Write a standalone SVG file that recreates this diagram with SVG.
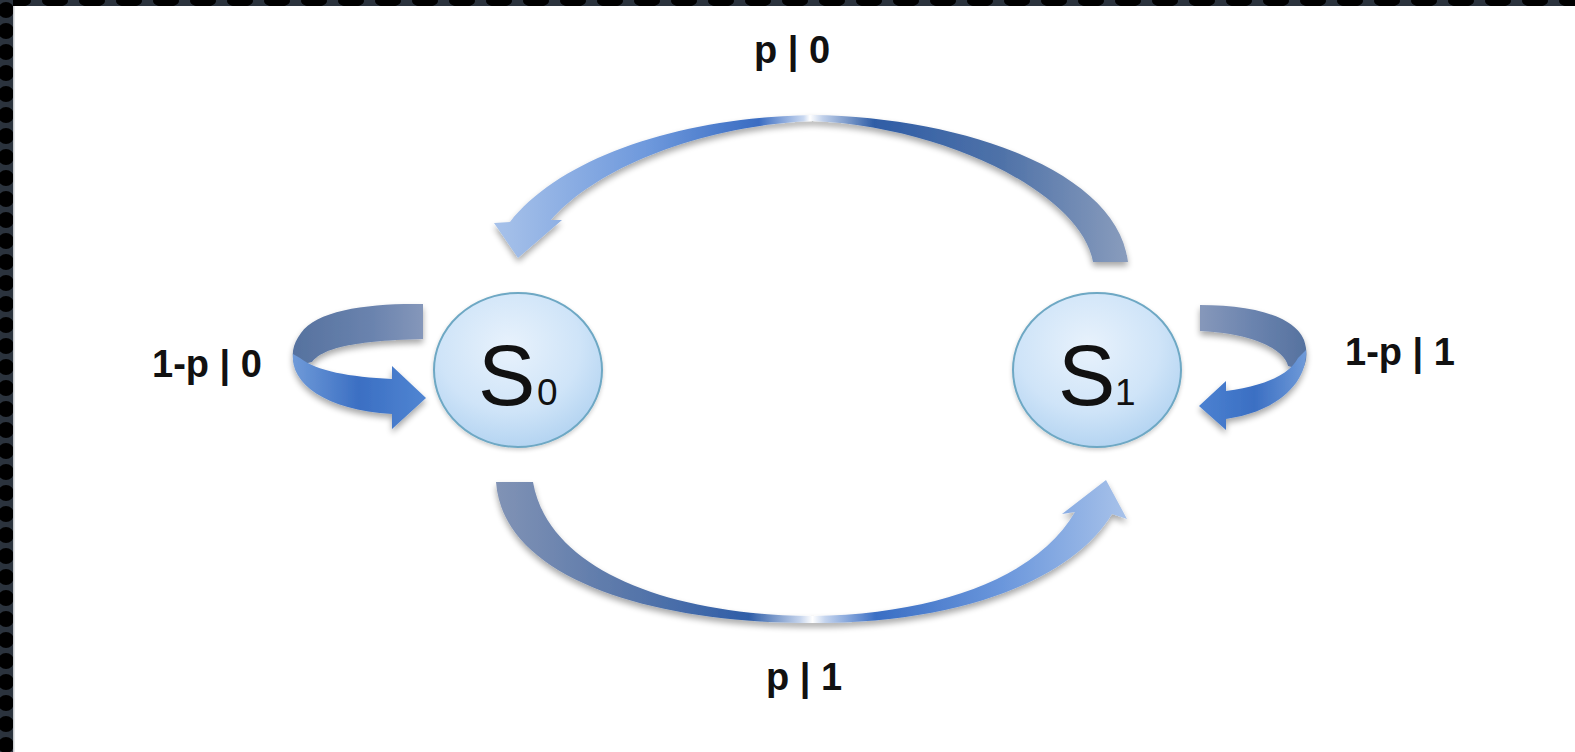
<svg xmlns="http://www.w3.org/2000/svg" width="1575" height="752" viewBox="0 0 1575 752">
  <defs>
    <style>
      .lbl { font-family: "Liberation Sans", Arial, sans-serif; font-weight: bold; font-size: 38px; fill: #111; }
      .big { font-family: "Liberation Sans", Arial, sans-serif; font-size: 86px; fill: #111; }
      .sub { font-family: "Liberation Sans", Arial, sans-serif; font-size: 37px; fill: #111; }
      .node { stroke: #6ea8c4; stroke-width: 2; fill: url(#nodeGrad); filter: url(#soft); }
    </style>
    <pattern id="leftPat" x="0" y="0" width="14" height="21" patternUnits="userSpaceOnUse">
      <rect width="14" height="21" fill="#2b333d"/>
      <circle cx="6" cy="10" r="8" fill="#000"/>
    </pattern>
    <pattern id="topPat" x="0" y="0" width="37" height="6" patternUnits="userSpaceOnUse">
      <rect width="37" height="6" fill="#2b333d"/>
      <ellipse cx="18" cy="1" rx="13" ry="6" fill="#000"/>
    </pattern>
    <radialGradient id="nodeGrad" cx="0.45" cy="0.35" r="0.7">
      <stop offset="0" stop-color="#e8f2fc"/>
      <stop offset="0.6" stop-color="#cfe4f8"/>
      <stop offset="1" stop-color="#afd1f0"/>
    </radialGradient>
    <linearGradient id="topArcGrad" x1="490" y1="0" x2="1130" y2="0" gradientUnits="userSpaceOnUse">
      <stop offset="0" stop-color="#a9c3ea"/>
      <stop offset="0.25" stop-color="#6d98dc"/>
      <stop offset="0.42" stop-color="#3a6cc2"/>
      <stop offset="0.49" stop-color="#c9d8f0"/>
      <stop offset="0.5" stop-color="#ffffff"/>
      <stop offset="0.52" stop-color="#c0d0ea"/>
      <stop offset="0.6" stop-color="#2f5da6"/>
      <stop offset="0.8" stop-color="#4f72a8"/>
      <stop offset="1" stop-color="#8a9dbd"/>
    </linearGradient>
    <linearGradient id="botArcGrad" x1="495" y1="0" x2="1130" y2="0" gradientUnits="userSpaceOnUse">
      <stop offset="0" stop-color="#8193b5"/>
      <stop offset="0.2" stop-color="#5a78aa"/>
      <stop offset="0.4" stop-color="#2f5ea8"/>
      <stop offset="0.48" stop-color="#c4d3ec"/>
      <stop offset="0.5" stop-color="#ffffff"/>
      <stop offset="0.52" stop-color="#c4d4ee"/>
      <stop offset="0.6" stop-color="#3a6ec4"/>
      <stop offset="0.8" stop-color="#6b97dc"/>
      <stop offset="1" stop-color="#a9c3ea"/>
    </linearGradient>
    <linearGradient id="loopTopL" x1="295" y1="0" x2="423" y2="0" gradientUnits="userSpaceOnUse">
      <stop offset="0" stop-color="#56729f"/>
      <stop offset="0.6" stop-color="#6a83ae"/>
      <stop offset="1" stop-color="#8597ba"/>
    </linearGradient>
    <linearGradient id="loopBotL" x1="293" y1="0" x2="425" y2="0" gradientUnits="userSpaceOnUse">
      <stop offset="0" stop-color="#6f9ad8"/>
      <stop offset="0.5" stop-color="#3b6fc3"/>
      <stop offset="1" stop-color="#5085d2"/>
    </linearGradient>
    <linearGradient id="loopTopR" x1="1202" y1="0" x2="1306" y2="0" gradientUnits="userSpaceOnUse">
      <stop offset="0" stop-color="#8597ba"/>
      <stop offset="0.5" stop-color="#6a83ae"/>
      <stop offset="1" stop-color="#56729f"/>
    </linearGradient>
    <linearGradient id="loopBotR" x1="1203" y1="0" x2="1306" y2="0" gradientUnits="userSpaceOnUse">
      <stop offset="0" stop-color="#4a80d0"/>
      <stop offset="0.5" stop-color="#3b6fc3"/>
      <stop offset="1" stop-color="#6f9ad8"/>
    </linearGradient>
    <filter id="shadow" x="-10%" y="-20%" width="120%" height="150%">
      <feGaussianBlur in="SourceAlpha" stdDeviation="3"/>
      <feOffset dx="0" dy="4" result="b"/>
      <feComponentTransfer><feFuncA type="linear" slope="0.35"/></feComponentTransfer>
      <feMerge><feMergeNode/><feMergeNode in="SourceGraphic"/></feMerge>
    </filter>
    <filter id="soft" x="-10%" y="-10%" width="120%" height="130%">
      <feGaussianBlur in="SourceAlpha" stdDeviation="2"/>
      <feOffset dx="0" dy="2"/>
      <feComponentTransfer><feFuncA type="linear" slope="0.2"/></feComponentTransfer>
      <feMerge><feMergeNode/><feMergeNode in="SourceGraphic"/></feMerge>
    </filter>
  </defs>

  <rect width="1575" height="752" fill="#ffffff"/>
  <rect x="0" y="0" width="1575" height="6" fill="url(#topPat)"/>
  <rect x="0" y="0" width="13" height="752" fill="url(#leftPat)"/>
  <rect x="13" y="6" width="1.5" height="746" fill="#c9cccf"/>

  <g id="connectors">
    <path id="arc-s1-s0" filter="url(#shadow)" fill="url(#topArcGrad)"
      d="M 510 222 C 560 158 680 117 813 115 C 960 117 1117 170 1128 262 L 1093 262 C 1082 196 950 127 813 121 C 690 126 590 174 551 220 L 562 220 L 518 258 L 494 223 Z"/>
    <path id="arc-s0-s1" filter="url(#shadow)" fill="url(#botArcGrad)"
      d="M 496 482 C 503 578 650 623 813 623 C 960 623 1072 580 1112 514 L 1127 519 L 1106 480 L 1062 514 L 1075 512 C 1038 576 940 614 813 616 C 665 615 548 568 533 482 Z"/>
    <g id="loop-s0" filter="url(#shadow)">
      <path fill="url(#loopTopL)" d="M 423 304 C 370 303 316 310 301 333 C 292 345 291 356 295 366 L 312 362 C 322 350 345 341 423 339 Z"/>
      <path fill="url(#loopBotL)" d="M 293 354 C 290 383 325 410 392 414 L 392 429 L 426 398 L 392 366 L 392 379 C 350 377 316 371 300 358 Z"/>
    </g>
    <g id="loop-s1" filter="url(#shadow)">
      <path fill="url(#loopTopR)" d="M 1200 305 C 1250 305 1294 315 1304 340 C 1308 352 1307 362 1302 370 L 1288 366 C 1285 352 1260 334 1200 331 Z"/>
      <path fill="url(#loopBotR)" d="M 1306 350 C 1308 386 1272 413 1226 419 L 1226 430 L 1199 406 L 1226 381 L 1226 391 C 1265 386 1290 374 1298 358 Z"/>
    </g>
  </g>

  <g id="node-s0">
    <ellipse class="node" cx="518" cy="370" rx="84" ry="77"/>
    <text x="478" y="405" class="big">S</text>
    <text x="537" y="405" class="sub">0</text>
  </g>
  <g id="node-s1">
    <ellipse class="node" cx="1097" cy="370" rx="84" ry="77"/>
    <text x="1058" y="405" class="big">S</text>
    <text x="1115" y="405" class="sub">1</text>
  </g>

  <g id="labels">
    <text x="152" y="377" class="lbl">1-p | 0</text>
    <text x="1345" y="365" class="lbl">1-p | 1</text>
    <text x="754" y="63" class="lbl">p | 0</text>
    <text x="766" y="690" class="lbl">p | 1</text>
  </g>
</svg>
